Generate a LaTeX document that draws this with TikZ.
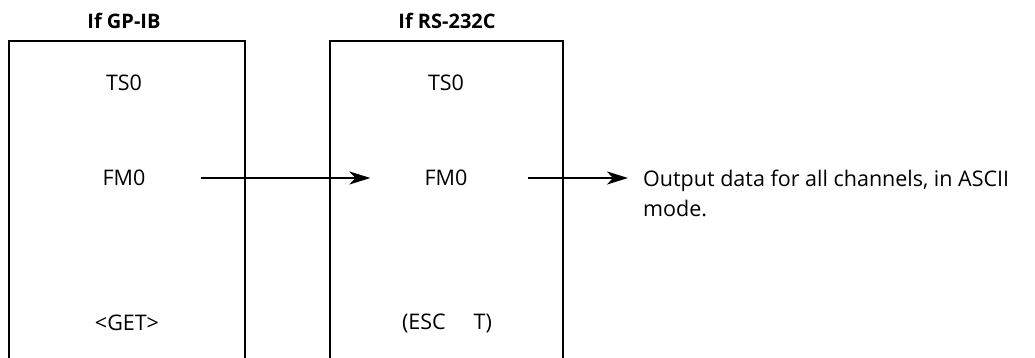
\documentclass[tikz,border=0pt]{standalone}
\usepackage{fontspec}
\setmainfont{Open Sans}
\usetikzlibrary{arrows.meta}
\begin{document}
\begin{tikzpicture}[x=1pt,y=-1pt,
  lbl/.style={inner sep=0pt,font=\fontsize{21.5}{30}\selectfont},
  ttl/.style={inner sep=0pt,font=\fontsize{20}{24}\selectfont\bfseries},
  boxline/.style={line width=2.6pt},
  arr/.style={line width=2pt,-{Stealth[length=21pt,width=13pt,inset=6pt]}}]
\useasboundingbox (0,0) rectangle (1035,357);
\clip (0,0) rectangle (1035,357);
% boxes (open at the bottom edge)
\draw[boxline] (9,370) -- (9,41) -- (245,41) -- (245,370);
\draw[boxline] (330,370) -- (330,41) -- (563,41) -- (563,370);
% titles
\node[ttl] (tL) at (124,21) {If GP-IB};
\node[ttl] (tR) at (447,21) {If RS-232C};
% left box
\node[lbl] (tsL) at (124,83) {TS0};
\node[lbl] (fmL) at (124,178) {FM0};
\node[lbl] (getL) at (127,323) {<GET>};
% right box
\node[lbl] (tsR) at (446,83) {TS0};
\node[lbl] (fmR) at (446,178) {FM0};
\node[lbl] (escR) at (447,323) {(ESC\hspace{1.3em}T)};
% output text
\node[lbl,anchor=west,align=left] (out) at (643,193) {Output data for all channels, in ASCII\\mode.};
% arrows
\draw[arr] ([xshift=55pt]fmL.east) -- ([xshift=-54pt]fmR.west);
\draw[arr] ([xshift=60pt]fmR.east) -- ([xshift=-15pt]out.west |- fmR.center);
\end{tikzpicture}
\end{document}
